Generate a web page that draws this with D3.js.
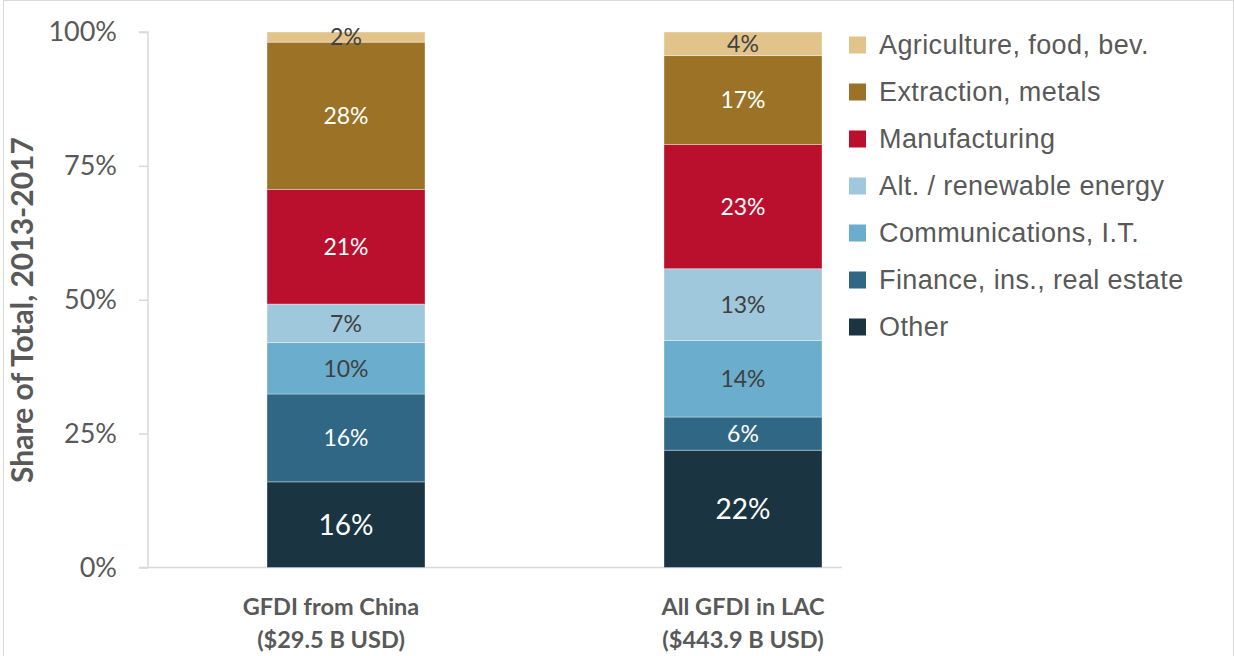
<!DOCTYPE html>
<html>
<head>
<meta charset="utf-8">
<script src="https://cdn.jsdelivr.net/npm/d3@7"></script>
<style>
  html, body { margin: 0; padding: 0; background: #fff; }
  svg { display: block; }
</style>
</head>
<body>
<svg id="chart" width="1234" height="656"></svg>
<script>
// ---- data ----
const categories = ["GFDI from China", "All GFDI in LAC"];
const categorySub = ["($29.5 B USD)", "($443.9 B USD)"];
const sectors = ["Other", "Finance, ins., real estate", "Communications, I.T.", "Alt. / renewable energy", "Manufacturing", "Extraction, metals", "Agriculture, food, bev."];
const chinaValues = [16.0, 16.4, 9.6, 7.2, 21.4, 27.5, 1.9];
const lacValues   = [21.9, 6.2, 14.3, 13.4, 23.2, 16.6, 4.4];
const chinaLabels = ["16%", "16%", "10%", "7%", "21%", "28%", "2%"];
const lacLabels   = ["22%", "6%", "14%", "13%", "23%", "17%", "4%"];
const yTicks = [0, 25, 50, 75, 100];
const yTickLabels = ["0%", "25%", "50%", "75%", "100%"];
const legendOrder = ["Agriculture, food, bev.", "Extraction, metals", "Manufacturing", "Alt. / renewable energy", "Communications, I.T.", "Finance, ins., real estate", "Other"];

const colors = {
  "Other": "#1a3442",
  "Finance, ins., real estate": "#2f6785",
  "Communications, I.T.": "#6aadcc",
  "Alt. / renewable energy": "#9fc8dc",
  "Manufacturing": "#bb0f2e",
  "Extraction, metals": "#9c7326",
  "Agriculture, food, bev.": "#e2c48a"
};
const darkLabel = new Set(["Communications, I.T.", "Alt. / renewable energy", "Agriculture, food, bev."]);

// ---- build table ----
const valueArrays = [chinaValues, lacValues];
const labelArrays = [chinaLabels, lacLabels];
const table = categories.map((c, i) => {
  const row = { category: c };
  sectors.forEach((s, j) => { row[s] = valueArrays[i][j]; });
  return row;
});

const svg = d3.select("#chart");
const W = 1234, H = 656;

// border
svg.append("rect").attr("x", 3.5).attr("y", 0.5).attr("width", W - 4).attr("height", H + 2)
  .attr("fill", "none").attr("stroke", "#d9d9d9").attr("stroke-width", 1);

const plot = { left: 148, right: 842, top: 32, bottom: 567.5 };

const xPos = d3.scaleOrdinal().domain(categories).range([267, 664]);
const barW = 158;
const labelShift = [-15, 0];

const y = d3.scaleLinear().domain([0, 100]).range([plot.bottom, plot.top]);

const stack = d3.stack().keys(sectors);
const series = stack(table);

// y axis
const yAxis = d3.axisLeft(y).tickValues(yTicks).tickFormat((d, i) => yTickLabels[i]).tickSize(9).tickPadding(22);
const yg = svg.append("g").attr("transform", `translate(${plot.left},0)`).call(yAxis);
yg.select(".domain").attr("stroke", "#d9d9d9").attr("stroke-width", 1.5).attr("d", `M-9,${y(100)}H0V${y(0)}`);
yg.selectAll(".tick line").attr("stroke", "#d9d9d9").attr("stroke-width", 1.5);
yg.selectAll(".tick text").attr("fill", "#595959").style("font-family", "Lato, 'Open Sans', sans-serif").style("font-size", "27px");

// baseline
svg.append("line").attr("x1", plot.left - 9).attr("x2", plot.right).attr("y1", y(0)).attr("y2", y(0))
  .attr("stroke", "#d9d9d9").attr("stroke-width", 1.5);

// bars
const groups = svg.append("g").selectAll("g").data(series).join("g")
  .attr("fill", d => colors[d.key]);
groups.selectAll("rect").data(d => d.map(v => ({ v, key: d.key }))).join("rect")
  .attr("x", d => xPos(d.v.data.category))
  .attr("width", barW)
  .attr("y", d => y(d.v[1]))
  .attr("height", d => y(d.v[0]) - y(d.v[1]))
  .attr("stroke", "rgba(255,255,255,0.35)")
  .attr("stroke-width", 1);

// labels
const labG = svg.append("g").style("font-family", "Lato, 'Open Sans', sans-serif");
series.forEach((s, j) => {
  s.forEach((v, i) => {
    const key = s.key;
    const big = key === "Other";
    labG.append("text")
      .attr("x", xPos(v.data.category) + barW / 2)
      .attr("y", (y(v[0]) + y(v[1])) / 2)
      .attr("dy", "0.36em")
      .attr("text-anchor", "middle")
      .attr("fill", darkLabel.has(key) ? "#404040" : "#ffffff")
      .style("font-size", big ? "28px" : "23px")
      .text(labelArrays[i][j]);
  });
});

// x labels
const xl = svg.append("g").style("font-family", "Lato, 'Open Sans', sans-serif").style("font-weight", "bold")
  .style("font-size", "23.5px").attr("fill", "#595959");
categories.forEach((c, i) => {
  const cx = xPos(c) + barW / 2 + labelShift[i];
  xl.append("text").attr("x", cx).attr("y", 615).attr("text-anchor", "middle").text(c);
  xl.append("text").attr("x", cx).attr("y", 648).attr("text-anchor", "middle").text(categorySub[i]);
});

// y title
svg.append("text")
  .attr("transform", `translate(33,310) rotate(-90)`)
  .attr("text-anchor", "middle")
  .attr("fill", "#595959")
  .style("font-family", "Lato, 'Open Sans', sans-serif")
  .style("font-weight", "bold")
  .style("font-size", "30px")
  .text("Share of Total, 2013-2017");

// legend
const lg = svg.append("g").style("font-family", "'Liberation Sans', Arial, sans-serif").style("font-size", "27px")
  .style("letter-spacing", "0.4px");
legendOrder.forEach((k, i) => {
  const cy = 45 + i * 47;
  lg.append("rect").attr("x", 849).attr("y", cy - 8.5).attr("width", 17).attr("height", 17).attr("fill", colors[k]);
  lg.append("text").attr("x", 879).attr("y", cy).attr("dy", "0.35em").attr("fill", "#595959").text(k);
});
</script>
</body>
</html>
